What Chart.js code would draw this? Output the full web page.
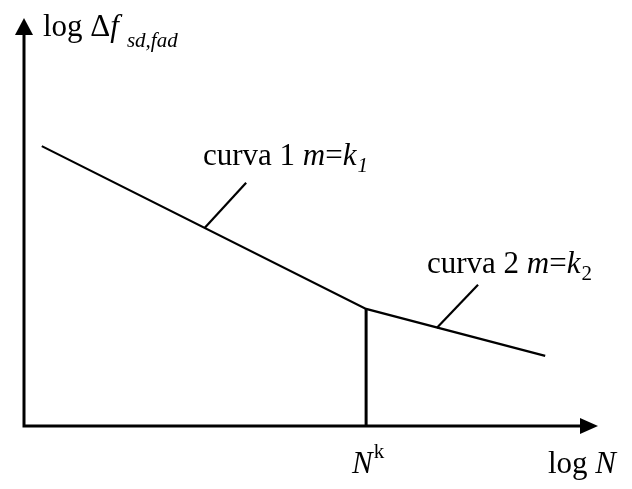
<!DOCTYPE html>
<html>
<head>
<meta charset="utf-8">
<script src="https://cdn.jsdelivr.net/npm/chart.js@4.4.0/dist/chart.umd.min.js"></script>
<style>
  html, body { margin: 0; padding: 0; background: #fff; }
  canvas { display: block; }
</style>
</head>
<body>
<canvas id="snchart" width="632" height="489"></canvas>
<script>
"use strict";

/* S-N curve, values in axis units (0..100) */
var logN = [3.1, 59.6, 90.8];
var logDf = [68.6, 28.7, 17.2];
var kneeY = [0, 28.7];
var leader1X = [31.5, 38.7];
var leader1Y = [48.6, 59.6];
var leader2X = [71.9, 79.1];
var leader2Y = [24.0, 34.6];

function pts(xs, ys) {
    return xs.map(function (x, i) { return { x: x, y: ys[i] }; });
}

var serif = '"Liberation Serif", "Times New Roman", serif';

/* draw text made of several runs (font, vertical shift) */
function richText(ctx, x, y, runs) {
    runs.forEach(function (r) {
        ctx.font = r.f;
        ctx.fillText(r.t, x, y + (r.dy || 0));
        x += ctx.measureText(r.t).width + (r.gap || 0);
    });
}

var axesPlugin = {
    id: 'axesPlugin',
    afterDraw: function (chart) {
        var ctx = chart.ctx;
        var xs = chart.scales.x, ys = chart.scales.y;
        var x0 = xs.getPixelForValue(0), y0 = ys.getPixelForValue(0);
        var xEnd = xs.getPixelForValue(100), yEnd = ys.getPixelForValue(100);
        ctx.save();
        ctx.strokeStyle = '#000';
        ctx.fillStyle = '#000';
        ctx.lineWidth = 3;
        ctx.beginPath();
        ctx.moveTo(x0, yEnd + 14);
        ctx.lineTo(x0, y0);
        ctx.lineTo(xEnd - 14, y0);
        ctx.stroke();
        // arrow heads
        ctx.beginPath();
        ctx.moveTo(x0, yEnd);
        ctx.lineTo(x0 - 9, yEnd + 17);
        ctx.lineTo(x0 + 9, yEnd + 17);
        ctx.closePath();
        ctx.fill();
        ctx.beginPath();
        ctx.moveTo(xEnd, y0);
        ctx.lineTo(xEnd - 18, y0 - 8);
        ctx.lineTo(xEnd - 18, y0 + 8);
        ctx.closePath();
        ctx.fill();

        ctx.textBaseline = 'alphabetic';
        var big = '31px ' + serif, bigI = 'italic 31px ' + serif;
        var sm = '21px ' + serif, smI = 'italic 21px ' + serif;
        richText(ctx, 43, 36, [
            { t: 'log Δ', f: big },
            { t: 'f', f: bigI, gap: 8 },
            { t: 'sd,fad', f: smI, dy: 11 }
        ]);
        richText(ctx, 203, 165, [
            { t: 'curva 1 ', f: big },
            { t: 'm', f: bigI },
            { t: '=', f: big },
            { t: 'k', f: bigI, gap: 1 },
            { t: '1', f: smI, dy: 7 }
        ]);
        richText(ctx, 427, 273, [
            { t: 'curva 2 ', f: big },
            { t: 'm', f: bigI },
            { t: '=', f: big },
            { t: 'k', f: bigI, gap: 1 },
            { t: '2', f: sm, dy: 7 }
        ]);
        richText(ctx, 352, 473, [
            { t: 'N', f: bigI, gap: 1 },
            { t: 'k', f: sm, dy: -15 }
        ]);
        richText(ctx, 548, 473, [
            { t: 'log ', f: big },
            { t: 'N', f: bigI }
        ]);
        ctx.restore();
    }
};

var lineStyle = { showLine: true, pointRadius: 0, borderColor: '#000', fill: false, tension: 0 };

new Chart(document.getElementById('snchart').getContext('2d'), {
    type: 'scatter',
    data: {
        datasets: [
            Object.assign({ data: pts(logN, logDf), borderWidth: 2.2 }, lineStyle),
            Object.assign({ data: pts([logN[1], logN[1]], kneeY), borderWidth: 3 }, lineStyle),
            Object.assign({ data: pts(leader1X, leader1Y), borderWidth: 2.2 }, lineStyle),
            Object.assign({ data: pts(leader2X, leader2Y), borderWidth: 2.2 }, lineStyle)
        ]
    },
    options: {
        responsive: false,
        animation: false,
        layout: { padding: { left: 24, top: 18, right: 34, bottom: 63 } },
        plugins: { legend: { display: false }, tooltip: { enabled: false } },
        scales: {
            x: { type: 'linear', min: 0, max: 100, display: false },
            y: { type: 'linear', min: 0, max: 100, display: false }
        }
    },
    plugins: [axesPlugin]
});
</script>
</body>
</html>
